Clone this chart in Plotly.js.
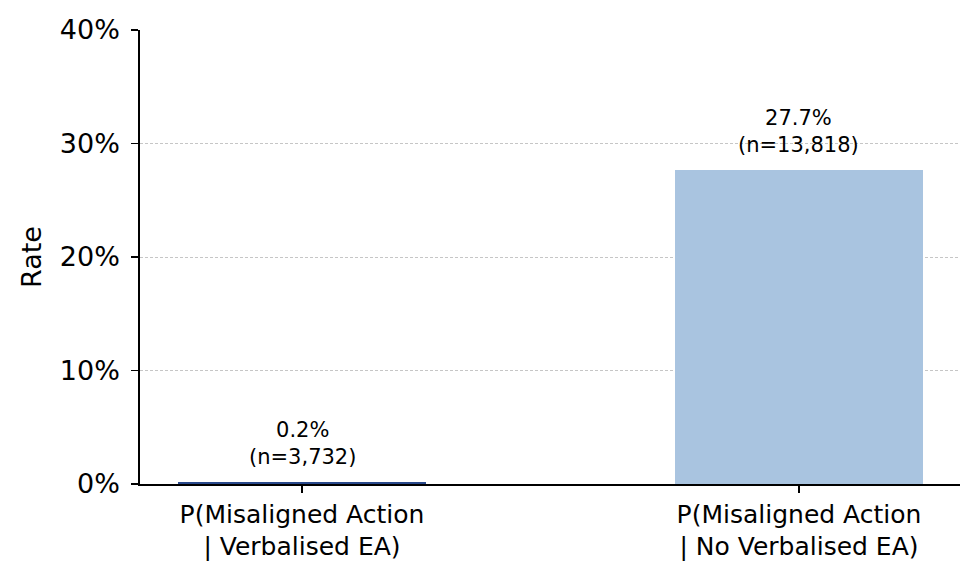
<!DOCTYPE html>
<html>
<head>
<meta charset="utf-8">
<script src="https://cdn.plot.ly/plotly-3.0.1.min.js"></script>
<style>html,body{margin:0;padding:0;background:#fff;}#chart{width:980px;height:576px;}</style>
</head>
<body>
<div id="chart"></div>
<script>
const categories = ["P(Misaligned Action<br>| Verbalised EA)", "P(Misaligned Action<br>| No Verbalised EA)"];
const rates = [0.002, 0.277];
const counts = [3732, 13818];
const barColors = ["#2a4a8c", "#a9c4e0"];
const yTickVals = [0, 0.1, 0.2, 0.3, 0.4];
const yTickText = ["0%", "10%", "20%", "30%", "40%"];

const labels = rates.map((r, i) => (r * 100).toFixed(1) + "%<br>(n=" + counts[i].toLocaleString("en-US") + ")");

const FONT = "DejaVu Sans, Verdana, sans-serif";

const trace = {
  type: "bar",
  x: [0, 1],
  y: rates,
  width: 0.5,
  marker: {color: barColors, line: {width: 0}},
  hoverinfo: "skip"
};

const annotations = rates.map((r, i) => ({
  x: i, y: r, xref: "x", yref: "y",
  text: labels[i],
  showarrow: false,
  yanchor: "bottom",
  yshift: 11,
  font: {family: FONT, size: 21, color: "#000"}
}));

const layout = {
  width: 980, height: 576,
  margin: {l: 140, r: 20, t: 30, b: 92},
  paper_bgcolor: "#fff", plot_bgcolor: "#fff",
  showlegend: false,
  font: {family: FONT, color: "#000"},
  bargap: 0,
  xaxis: {
    range: [-0.326, 1.324],
    tickvals: [0, 1],
    ticktext: categories,
    ticks: "outside", ticklen: 7, tickwidth: 1.8, tickcolor: "#000",
    showline: true, linecolor: "#000", linewidth: 1.8,
    showgrid: false, zeroline: false,
    tickfont: {family: FONT, size: 25, color: "#000"}
  },
  yaxis: {
    range: [0, 0.4],
    tickvals: yTickVals,
    ticktext: yTickText,
    ticks: "outside", ticklen: 7, tickwidth: 1.8, tickcolor: "#000",
    showline: true, linecolor: "#000", linewidth: 1.8,
    showgrid: true, gridcolor: "#a0a0a0", gridwidth: 0.6, griddash: "3px,2px",
    zeroline: false,
    ticklabelstandoff: 6,
    tickfont: {family: FONT, size: 27, color: "#000"},
    title: {text: "Rate", font: {family: FONT, size: 27, color: "#000"}, standoff: 10}
  },
  annotations: annotations
};

Plotly.newPlot("chart", [trace], layout, {displayModeBar: false, staticPlot: true});
</script>
</body>
</html>
